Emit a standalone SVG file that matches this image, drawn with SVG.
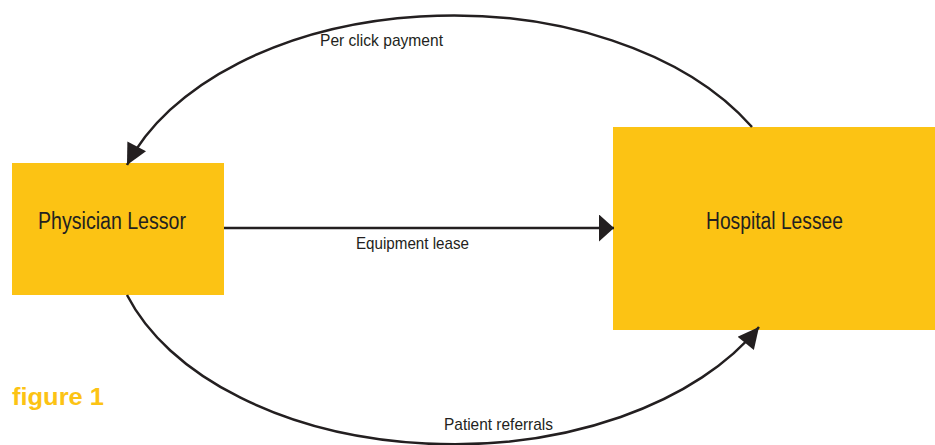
<svg xmlns="http://www.w3.org/2000/svg" width="935" height="445" viewBox="0 0 935 445">
  <style>
    .box { fill: #fcc314; }
    .lbl { font-family: "Liberation Sans", Arial, sans-serif; fill: #231f20; }
    .node { font-size: 23px; }
    .edge { font-size: 17px; }
    .wire { fill: none; stroke: #231f20; stroke-width: 2.5; }
    .fig { font-family: "Liberation Sans", Arial, sans-serif; font-weight: bold; font-size: 24px; fill: #fcc314; }
  </style>
  <defs>
    <marker id="head" viewBox="0 0 10 10" refX="10" refY="5" markerUnits="userSpaceOnUse" markerWidth="23" markerHeight="21" orient="auto">
      <path d="M0 0 L10 5 L0 10 Z" fill="#231f20"/>
    </marker>
    <marker id="head-wide" viewBox="0 0 10 10" refX="10" refY="5" markerUnits="userSpaceOnUse" markerWidth="15" markerHeight="27" orient="auto" preserveAspectRatio="none">
      <path d="M0 0 L10 5 L0 10 Z" fill="#231f20"/>
    </marker>
  </defs>

  <g id="physician-lessor">
    <rect class="box" x="12" y="163" width="212" height="132"/>
    <text class="lbl node" x="38" y="229" textLength="148" lengthAdjust="spacingAndGlyphs">Physician Lessor</text>
  </g>

  <g id="hospital-lessee">
    <rect class="box" x="613" y="127" width="322" height="203"/>
    <text class="lbl node" x="706" y="229" textLength="137" lengthAdjust="spacingAndGlyphs">Hospital Lessee</text>
  </g>

  <g id="connectors">
    <path class="wire" d="M224 228 H614" stroke-width="3" marker-end="url(#head-wide)"/>
    <path class="wire" d="M752 127 A343 218 0 0 0 127 165" marker-end="url(#head)"/>
    <path class="wire" d="M127 295 A343 215 0 0 0 759 327" marker-end="url(#head)"/>
    <text class="lbl edge" x="356" y="249" textLength="113" lengthAdjust="spacingAndGlyphs">Equipment lease</text>
    <text class="lbl edge" x="320" y="46" textLength="123" lengthAdjust="spacingAndGlyphs">Per click payment</text>
    <text class="lbl edge" x="444" y="430" textLength="109" lengthAdjust="spacingAndGlyphs">Patient referrals</text>
  </g>

  <text class="fig" x="12" y="405" textLength="92" lengthAdjust="spacingAndGlyphs">figure 1</text>
</svg>
